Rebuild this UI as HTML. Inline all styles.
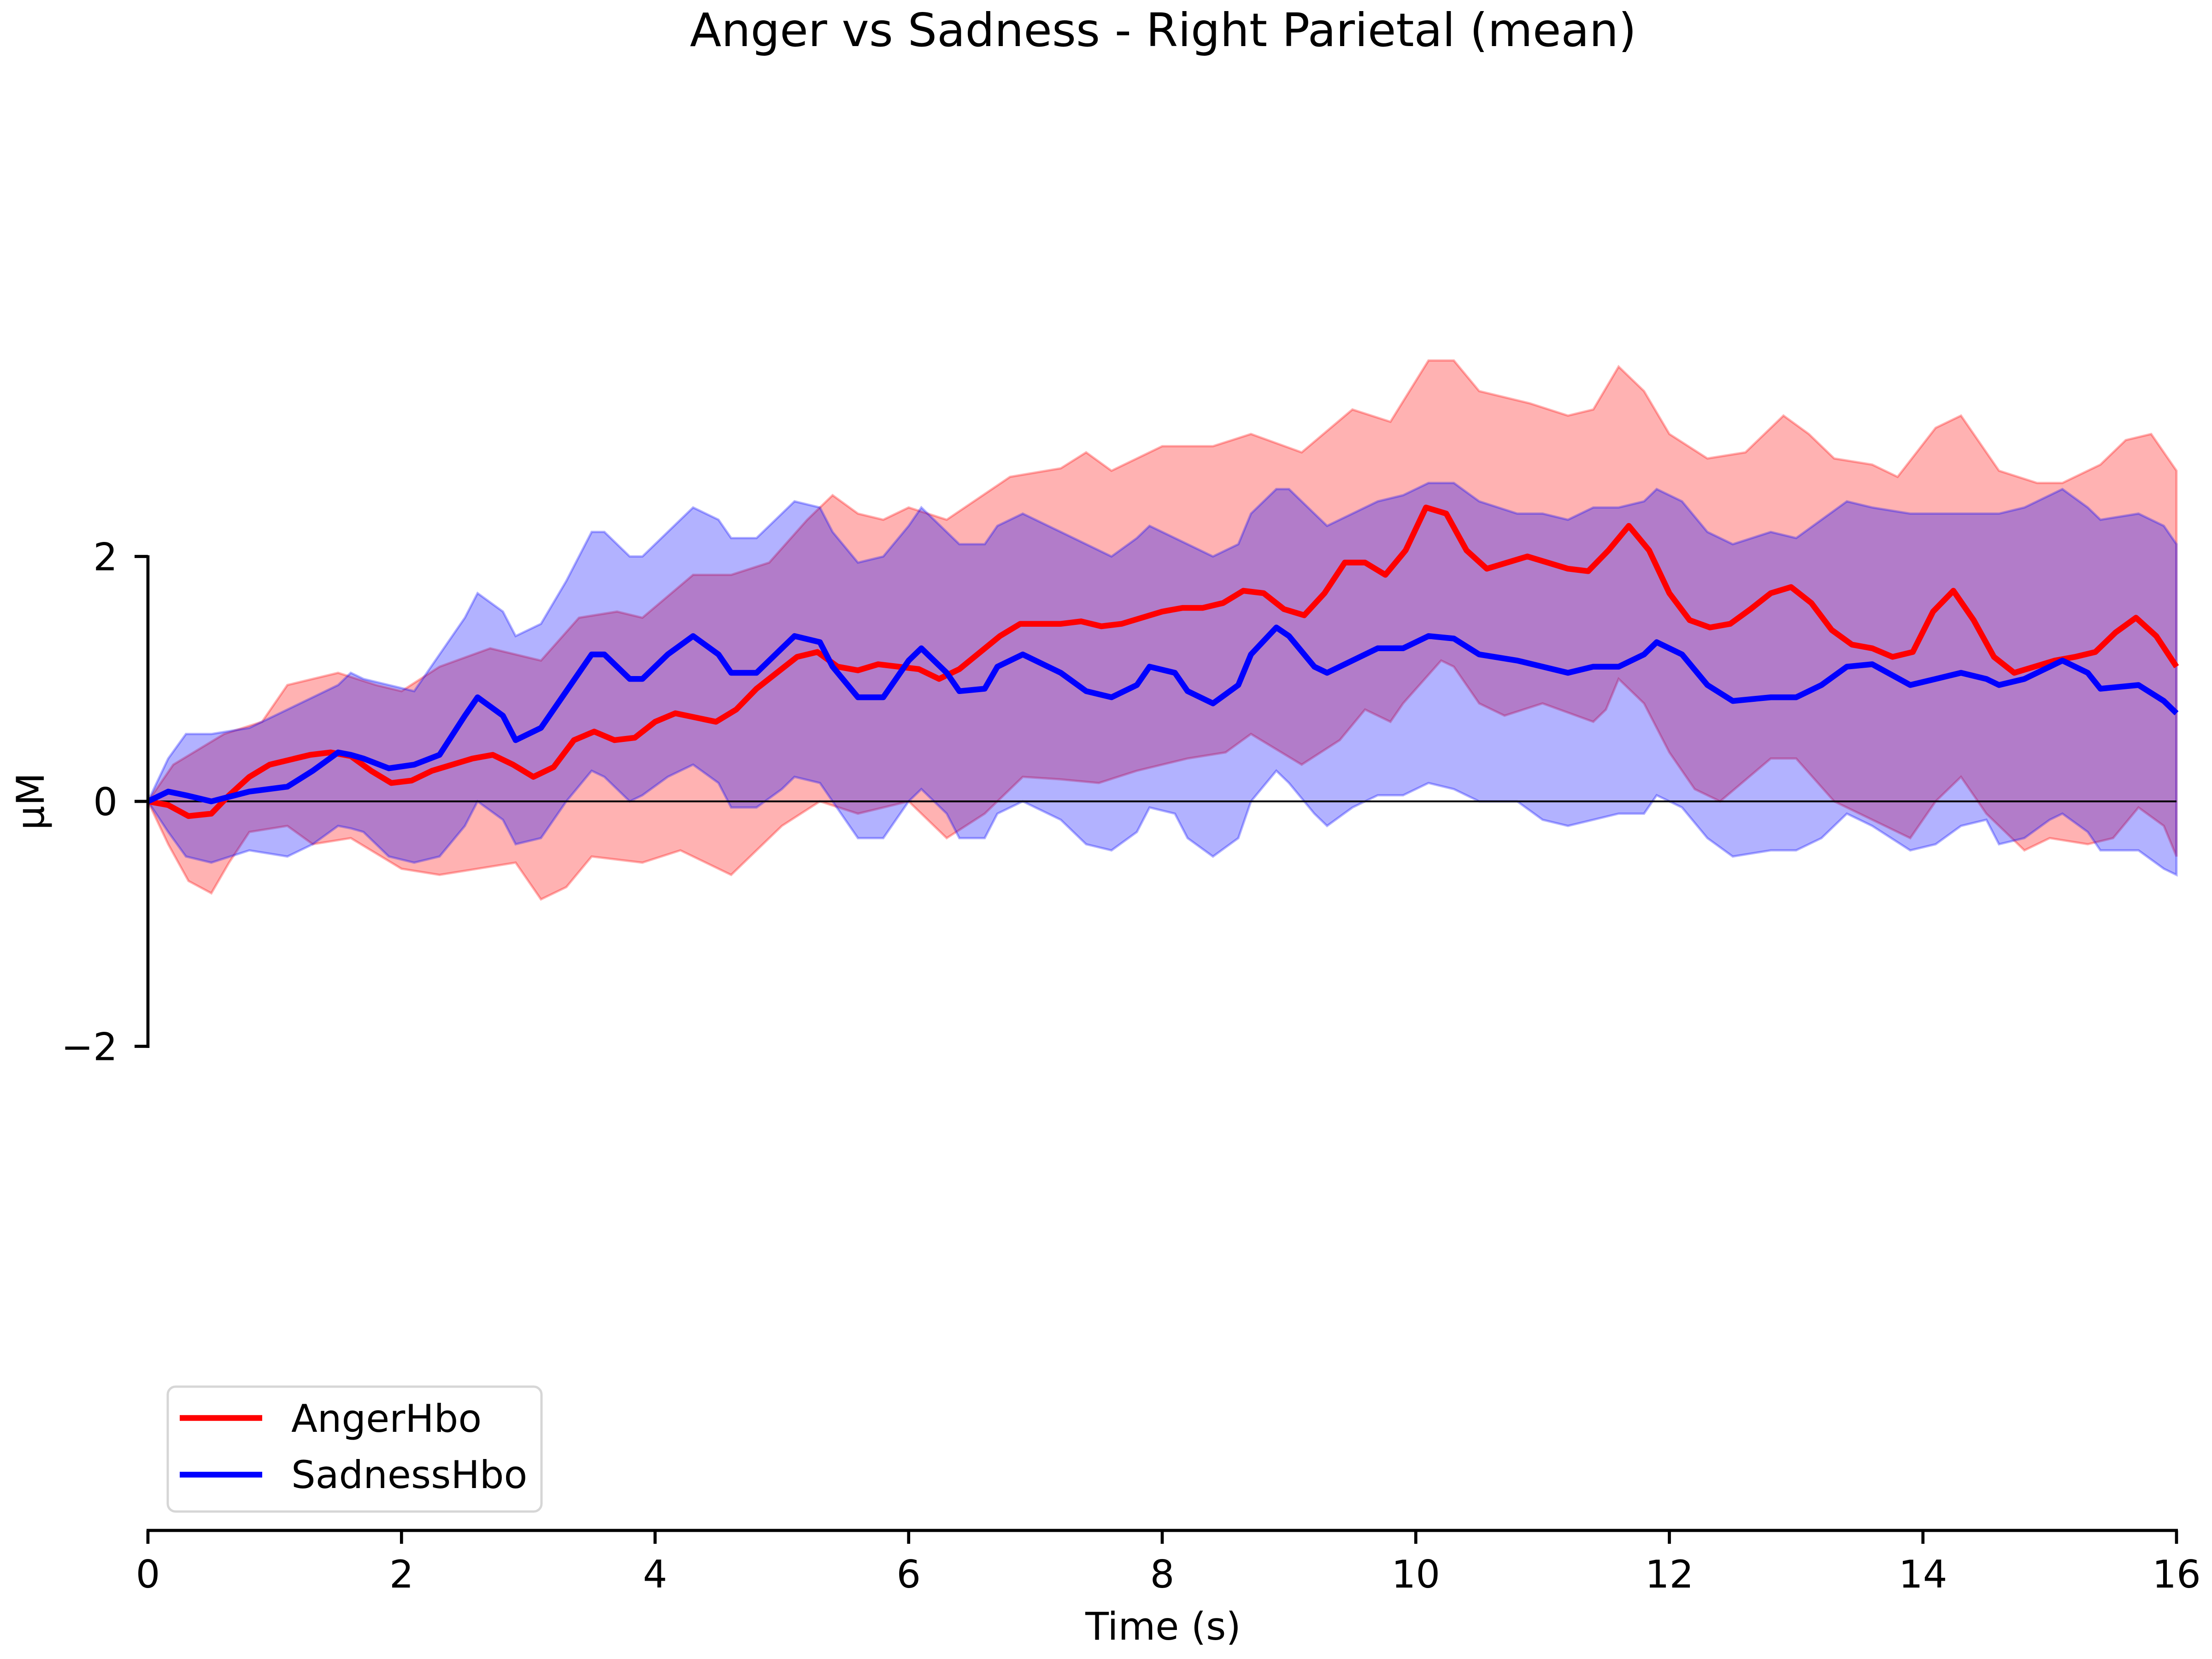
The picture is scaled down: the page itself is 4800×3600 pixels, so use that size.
<!DOCTYPE html>
<html><head><meta charset="utf-8"><style>
html,body{margin:0;padding:0;background:#fff;}
svg{display:block;font-family:"DejaVu Sans","Liberation Sans",sans-serif;}
</style></head><body>
<svg id="chart" width="4800" height="3600" viewBox="0 0 4800 3600" xmlns="http://www.w3.org/2000/svg">
<rect width="4800" height="3600" fill="#fff"/>
<text x="2524" y="100" font-size="100" text-anchor="middle">Anger vs Sadness - Right Parietal (mean)</text>
<g id="bands"></g>
<line x1="321" y1="1739" x2="4723" y2="1739" stroke="#000" stroke-width="4"/>
<g id="lines"></g>
<line x1="321" y1="1205" x2="321" y2="2274" stroke="#000" stroke-width="6.7"/>
<line x1="318" y1="3321" x2="4726" y2="3321" stroke="#000" stroke-width="6.7"/>
<g id="xticks"></g>
<g id="yticks"></g>
<text x="2524" y="3558" font-size="83" text-anchor="middle">Time (s)</text>
<text transform="translate(95,1739) rotate(-90)" font-size="83" text-anchor="middle">μM</text>
<g>
<rect x="364" y="3009" width="811" height="271" rx="17" fill="#fff" stroke="#d6d6d6" stroke-width="5"/>
<line x1="390" y1="3077" x2="569" y2="3077" stroke="#ff0000" stroke-width="12.5"/>
<text x="632" y="3107" font-size="83">AngerHbo</text>
<line x1="390" y1="3200" x2="569" y2="3200" stroke="#0000ff" stroke-width="12.5"/>
<text x="632" y="3229" font-size="83">SadnessHbo</text>
</g>
</svg>
<script>
const xTicks=[0,2,4,6,8,10,12,14,16];
const yTicks=[-2,0,2];
const yTickLabels=["\u22122","0","2"];
const angerMeanT=[0,0.16,0.32,0.5,0.64,0.8,0.96,1.28,1.44,1.6,1.76,1.92,2.08,2.24,2.56,2.72,2.88,3.04,3.2,3.36,3.52,3.68,3.84,4.0,4.16,4.48,4.64,4.8,5.12,5.28,5.44,5.6,5.76,6.08,6.24,6.4,6.72,6.88,7.2,7.36,7.52,7.68,8.0,8.16,8.32,8.48,8.64,8.8,8.96,9.12,9.28,9.44,9.6,9.76,9.92,10.08,10.24,10.4,10.56,10.88,11.2,11.36,11.52,11.68,11.84,12.0,12.16,12.32,12.48,12.64,12.8,12.96,13.12,13.28,13.44,13.6,13.76,13.92,14.08,14.24,14.4,14.56,14.72,14.88,15.04,15.2,15.36,15.52,15.68,15.84,16];
const angerMeanV=[0,-0.03,-0.12,-0.1,0.05,0.2,0.3,0.38,0.4,0.37,0.25,0.15,0.17,0.25,0.35,0.38,0.3,0.2,0.28,0.5,0.57,0.5,0.52,0.65,0.72,0.65,0.75,0.92,1.18,1.22,1.1,1.07,1.12,1.08,1.0,1.08,1.35,1.45,1.45,1.47,1.43,1.45,1.55,1.58,1.58,1.62,1.72,1.7,1.57,1.52,1.7,1.95,1.95,1.85,2.05,2.4,2.35,2.05,1.9,2.0,1.9,1.88,2.05,2.25,2.05,1.7,1.48,1.42,1.45,1.57,1.7,1.75,1.62,1.4,1.28,1.25,1.18,1.22,1.55,1.72,1.48,1.18,1.05,1.1,1.15,1.18,1.22,1.38,1.5,1.35,1.1];
const angerUpperT=[0,0.2,0.6,0.9,1.1,1.5,1.8,2.0,2.3,2.7,3.1,3.4,3.7,3.9,4.3,4.6,4.9,5.2,5.4,5.6,5.8,6.0,6.3,6.8,7.2,7.4,7.6,8.0,8.4,8.7,9.1,9.5,9.8,10.1,10.3,10.5,10.9,11.2,11.4,11.6,11.8,12.0,12.3,12.6,12.9,13.1,13.3,13.6,13.8,14.1,14.3,14.6,14.9,15.1,15.4,15.6,15.8,16];
const angerUpperV=[0,0.3,0.55,0.65,0.95,1.05,0.95,0.9,1.1,1.25,1.15,1.5,1.55,1.5,1.85,1.85,1.95,2.3,2.5,2.35,2.3,2.4,2.3,2.65,2.72,2.85,2.7,2.9,2.9,3.0,2.85,3.2,3.1,3.6,3.6,3.35,3.25,3.15,3.2,3.55,3.35,3.0,2.8,2.85,3.15,3.0,2.8,2.75,2.65,3.05,3.15,2.7,2.6,2.6,2.75,2.95,3.0,2.7];
const angerLowerT=[0,0.16,0.32,0.5,0.64,0.8,1.1,1.3,1.6,2.0,2.3,2.6,2.9,3.1,3.3,3.5,3.9,4.2,4.6,4.8,5.0,5.3,5.6,6.0,6.3,6.6,6.9,7.2,7.5,7.8,8.2,8.5,8.7,9.1,9.4,9.6,9.8,9.9,10.2,10.3,10.5,10.7,11.0,11.4,11.5,11.6,11.8,12.0,12.2,12.4,12.8,13.0,13.3,13.6,13.9,14.1,14.3,14.5,14.8,15.0,15.3,15.5,15.7,15.9,16];
const angerLowerV=[0,-0.35,-0.65,-0.75,-0.5,-0.25,-0.2,-0.35,-0.3,-0.55,-0.6,-0.55,-0.5,-0.8,-0.7,-0.45,-0.5,-0.4,-0.6,-0.4,-0.2,0,-0.1,0,-0.3,-0.1,0.2,0.18,0.15,0.25,0.35,0.4,0.55,0.3,0.5,0.75,0.65,0.8,1.15,1.1,0.8,0.7,0.8,0.65,0.75,1.0,0.8,0.4,0.1,0.0,0.35,0.35,0.0,-0.15,-0.3,0.0,0.2,-0.1,-0.4,-0.3,-0.35,-0.3,-0.05,-0.2,-0.45];
const sadT=[0,0.16,0.3,0.5,0.8,1.1,1.3,1.5,1.6,1.7,1.9,2.1,2.3,2.5,2.6,2.8,2.9,3.1,3.3,3.5,3.6,3.8,3.9,4.1,4.3,4.5,4.6,4.8,5.0,5.1,5.3,5.4,5.6,5.8,6.0,6.1,6.3,6.4,6.6,6.7,6.9,7.2,7.4,7.6,7.8,7.9,8.1,8.2,8.4,8.6,8.7,8.9,9.0,9.2,9.3,9.5,9.7,9.9,10.1,10.3,10.5,10.8,11.0,11.2,11.4,11.6,11.8,11.9,12.1,12.3,12.5,12.8,13.0,13.2,13.4,13.6,13.9,14.1,14.3,14.5,14.6,14.8,15.0,15.1,15.3,15.4,15.7,15.9,16];
const sadMeanV=[0,0.08,0.05,0.0,0.08,0.12,0.25,0.4,0.38,0.35,0.27,0.3,0.38,0.7,0.85,0.7,0.5,0.6,0.9,1.2,1.2,1.0,1.0,1.2,1.35,1.2,1.05,1.05,1.25,1.35,1.3,1.1,0.85,0.85,1.15,1.25,1.05,0.9,0.92,1.1,1.2,1.05,0.9,0.85,0.95,1.1,1.05,0.9,0.8,0.95,1.2,1.42,1.35,1.1,1.05,1.15,1.25,1.25,1.35,1.33,1.2,1.15,1.1,1.05,1.1,1.1,1.2,1.3,1.2,0.95,0.82,0.85,0.85,0.95,1.1,1.12,0.95,1.0,1.05,1.0,0.95,1.0,1.1,1.15,1.05,0.92,0.95,0.82,0.72];
const sadUpperV=[0,0.35,0.55,0.55,0.6,0.75,0.85,0.95,1.05,1.0,0.95,0.9,1.2,1.5,1.7,1.55,1.35,1.45,1.8,2.2,2.2,2.0,2.0,2.2,2.4,2.3,2.15,2.15,2.35,2.45,2.4,2.2,1.95,2.0,2.25,2.4,2.2,2.1,2.1,2.25,2.35,2.2,2.1,2.0,2.15,2.25,2.15,2.1,2.0,2.1,2.35,2.55,2.55,2.35,2.25,2.35,2.45,2.5,2.6,2.6,2.45,2.35,2.35,2.3,2.4,2.4,2.45,2.55,2.45,2.2,2.1,2.2,2.15,2.3,2.45,2.4,2.35,2.35,2.35,2.35,2.35,2.4,2.5,2.55,2.4,2.3,2.35,2.25,2.1];
const sadLowerV=[0,-0.25,-0.45,-0.5,-0.4,-0.45,-0.35,-0.2,-0.22,-0.25,-0.45,-0.5,-0.45,-0.2,0.0,-0.15,-0.35,-0.3,0.0,0.25,0.2,0.0,0.05,0.2,0.3,0.15,-0.05,-0.05,0.1,0.2,0.15,0.0,-0.3,-0.3,0.0,0.1,-0.1,-0.3,-0.3,-0.1,0.0,-0.15,-0.35,-0.4,-0.25,-0.05,-0.1,-0.3,-0.45,-0.3,0.0,0.25,0.15,-0.1,-0.2,-0.05,0.05,0.05,0.15,0.1,0.0,0.0,-0.15,-0.2,-0.15,-0.1,-0.1,0.05,-0.05,-0.3,-0.45,-0.4,-0.4,-0.3,-0.1,-0.2,-0.4,-0.35,-0.2,-0.15,-0.35,-0.3,-0.15,-0.1,-0.25,-0.4,-0.4,-0.55,-0.6];

const NS="http://www.w3.org/2000/svg";
function X(t){return 321+t*275.125;}
function Y(v){return 1739-v*265.75;}
function pts(T,V){return T.map((t,i)=>X(t).toFixed(1)+","+Y(V[i]).toFixed(1));}
function band(uT,uV,lT,lV,color,name){
  const p=document.createElementNS(NS,"polygon");
  p.setAttribute("points",pts(uT,uV).concat(pts(lT,lV).reverse()).join(" "));
  p.setAttribute("fill",color);p.setAttribute("fill-opacity","0.3");
  p.setAttribute("stroke",color);p.setAttribute("stroke-opacity","0.3");p.setAttribute("stroke-width","5");
  
  
  document.getElementById("bands").appendChild(p);
}
function line(T,V,color,name){
  const p=document.createElementNS(NS,"polyline");
  p.setAttribute("points",pts(T,V).join(" "));
  p.setAttribute("fill","none");p.setAttribute("stroke",color);p.setAttribute("stroke-width","12.5");
  p.setAttribute("stroke-linejoin","round");
  
  
  document.getElementById("lines").appendChild(p);
}
band(angerUpperT,angerUpperV,angerLowerT,angerLowerV,"#ff0000","anger-band");
band(sadT,sadUpperV,sadT,sadLowerV,"#0000ff","sadness-band");
line(angerMeanT,angerMeanV,"#ff0000","anger-line");
line(sadT,sadMeanV,"#0000ff","sadness-line");
const xg=document.getElementById("xticks");
xTicks.forEach(t=>{
  const l=document.createElementNS(NS,"line");
  l.setAttribute("x1",X(t));l.setAttribute("x2",X(t));l.setAttribute("y1",3321);l.setAttribute("y2",3350);
  l.setAttribute("stroke","#000");l.setAttribute("stroke-width","6.7");
  
  
  xg.appendChild(l);
  const tx=document.createElementNS(NS,"text");
  tx.setAttribute("x",X(t));tx.setAttribute("y",3445);tx.setAttribute("font-size","83");tx.setAttribute("text-anchor","middle");
  tx.textContent=String(t);
  
  
  xg.appendChild(tx);
});
const yg=document.getElementById("yticks");
yTicks.forEach((v,i)=>{
  const l=document.createElementNS(NS,"line");
  l.setAttribute("x1",292);l.setAttribute("x2",321);l.setAttribute("y1",Y(v));l.setAttribute("y2",Y(v));
  l.setAttribute("stroke","#000");l.setAttribute("stroke-width","6.7");
  
  
  yg.appendChild(l);
  const tx=document.createElementNS(NS,"text");
  tx.setAttribute("x",255);tx.setAttribute("y",Y(v)+30);tx.setAttribute("font-size","83");tx.setAttribute("text-anchor","end");
  tx.textContent=yTickLabels[i];
  
  
  yg.appendChild(tx);
});
</script>
</body></html>
